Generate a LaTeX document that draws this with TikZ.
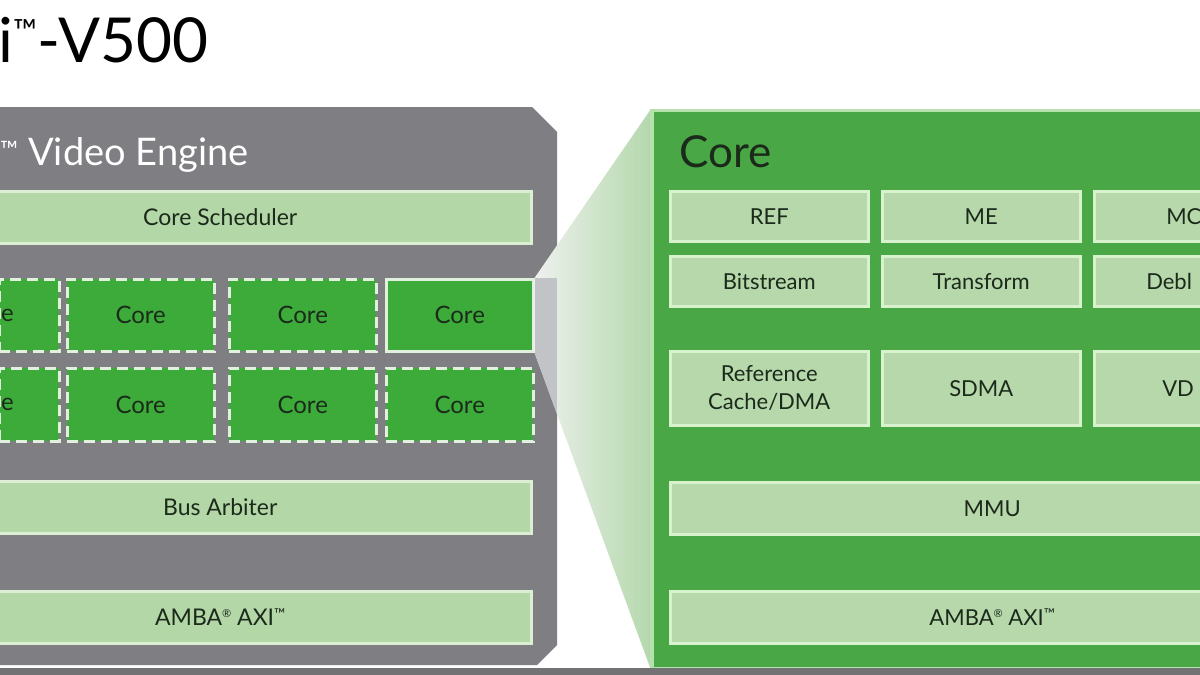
\documentclass[tikz,border=0pt]{standalone}
\usepackage{fontspec}
\setmainfont{Lato}
\definecolor{panelgrey}{HTML}{7E7E83}
\definecolor{barfill}{HTML}{B3D7A7}
\definecolor{barline}{HTML}{DCEFD5}
\definecolor{coregreen}{HTML}{3DAB3A}
\definecolor{coreline}{HTML}{E2F1DD}
\definecolor{bigpanel}{HTML}{49A845}
\definecolor{bigline}{HTML}{B6E0AE}
\definecolor{boxfill}{HTML}{B6D8AA}
\definecolor{boxline}{HTML}{D8F2CE}
\definecolor{darktext}{HTML}{1B2A1B}
\definecolor{stripgrey}{HTML}{727274}
\definecolor{projgreen}{HTML}{B4D8AC}
\definecolor{projleft}{HTML}{EEF1EE}
\definecolor{projgrey}{HTML}{C2C3C6}
\newcommand{\supreg}{\raisebox{0.75ex}{\fontsize{11}{11}\selectfont ®}}
\newcommand{\suptm}{\raisebox{0.55ex}{\fontsize{15}{15}\selectfont ™}}
\begin{document}
\begin{tikzpicture}[x=1pt,y=-1pt,
  lbar/.style={draw=barline, fill=barfill, line width=2.5pt, anchor=north west,
    minimum width=622pt, minimum height=52pt, inner sep=0pt, text=darktext,
    font=\fontsize{23}{27}\selectfont},
  corebox/.style={draw=coreline, fill=coregreen, line width=2.5pt, anchor=north west,
    minimum width=147pt, minimum height=72pt, inner sep=0pt, text=darktext,
    dash pattern=on 11pt off 6pt, font=\fontsize{24}{28}\selectfont},
  rbox/.style={draw=boxline, fill=boxfill, line width=2.5pt, anchor=north west,
    minimum width=198pt, minimum height=50pt, inner sep=0pt, text=darktext,
    font=\fontsize{22}{28}\selectfont, align=center},
  rbar/.style={rbox, minimum width=644pt, minimum height=52pt}
]
\useasboundingbox (0,0) rectangle (1200,675);
\clip (0,0) rectangle (1200,675);
\fill[white] (0,0) rectangle (1200,675);

% title
\node[anchor=base west, inner sep=0pt, font=\fontsize{62}{70}\selectfont] (title) at (-2,62) {i\raisebox{20pt}{\fontsize{32}{32}\selectfont ™}-V500};

% left grey panel
\fill[panelgrey] (-10,107) -- (532,107) -- (557,132) -- (557,645) -- (537,665) -- (-10,665) -- cycle;
\node[anchor=base west, inner sep=0pt, text=white, font=\fontsize{38}{44}\selectfont] (vename) at (0,165) {\raisebox{7pt}{\fontsize{24}{24}\selectfont ™}\hspace{10pt}Video Engine};

\node[lbar] (sched) at (-92,190) {Core Scheduler};

% cores
\node[corebox, minimum width=60pt, text width=56pt, align=left, inner xsep=2pt] (c10) at (-2,278) {e};
\node[corebox] (c11) at (66,278) {Core};
\node[corebox] (c12) at (228,278) {Core};
\node[corebox, solid] (c13) at (385,278) {Core};
\node[corebox, minimum width=60pt, text width=56pt, align=left, inner xsep=2pt, minimum height=73pt] (c20) at (-2,367) {e};
\node[corebox, minimum height=73pt] (c21) at (66,367) {Core};
\node[corebox, minimum height=73pt] (c22) at (228,367) {Core};
\node[corebox, minimum height=73pt] (c23) at (385,367) {Core};

\node[lbar] (bus) at (-92,480) {Bus Arbiter};
\node[lbar] (axil) at (-92,590) {AMBA\supreg\ AXI\suptm};

% right big panel
\node[draw=bigline, fill=bigpanel, line width=3pt, anchor=north west, minimum width=600pt, minimum height=558pt, inner sep=0pt] (core) at (651,109) {};

% projection
\shade[left color=projleft, right color=projgreen] (c13.north east) -- (core.north west) -- (core.south west) -- (c13.south east) -- cycle;
\begin{scope}
  \clip (c13.north east) -- (core.north west) -- (core.south west) -- (c13.south east) -- cycle;
  \fill[projgrey] (c13.north east) rectangle (557,675);
\end{scope}
\draw[bigline, line width=3pt] (core.north west) -- (core.south west);

\node[anchor=base west, inner sep=0pt, text=darktext, font=\fontsize{44}{50}\selectfont] (coretitle) at (679,167) {Core};

\node[rbox] (ref) at (669,190) {REF};
\node[rbox] (me) at (881,190) {ME};
\node[rbox, text width=118pt, align=left, minimum width=122pt, inner xsep=2pt] (mc) at (1093,190) {\hspace*{70pt}MC};
\node[rbox] (bits) at (669,255) {Bitstream};
\node[rbox] (trans) at (881,255) {Transform};
\node[rbox, text width=118pt, align=left, minimum width=122pt, inner xsep=2pt] (debl) at (1093,255) {\hspace*{50pt}Debl};
\node[rbox, minimum height=74pt] (rcache) at (669,350) {Reference\\Cache/DMA};
\node[rbox, minimum height=74pt] (sdma) at (881,350) {SDMA};
\node[rbox, minimum height=74pt, text width=118pt, align=left, minimum width=122pt, inner xsep=2pt] (vd) at (1093,350) {\hspace*{66pt}VD};
\node[rbar] (mmu) at (669,481) {MMU};
\node[rbar] (axir) at (669,590) {AMBA\supreg\ AXI\suptm};

% bottom strip
\fill[stripgrey] (0,668) rectangle (1200,675);
\end{tikzpicture}
\end{document}
